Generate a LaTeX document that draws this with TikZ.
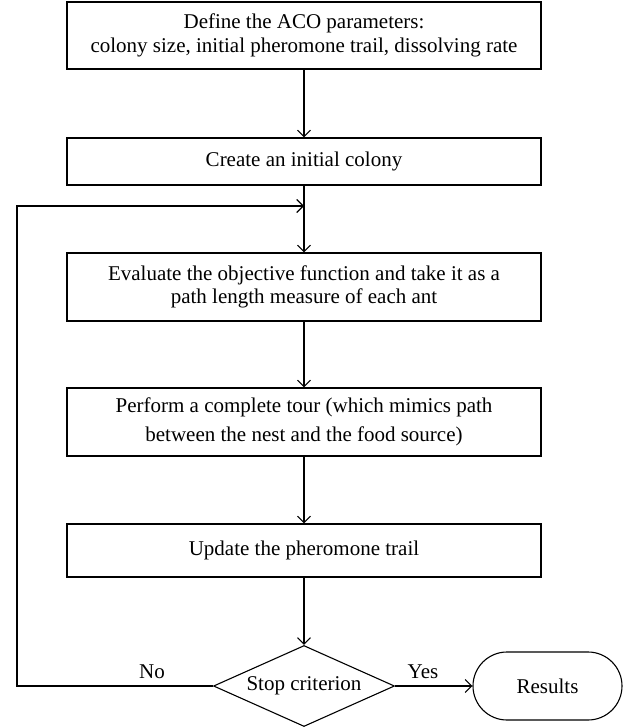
\documentclass[tikz,border=0pt]{standalone}
\usepackage{fontspec}
\setmainfont{Liberation Serif}
\usetikzlibrary{shapes.geometric,arrows.meta}
\begin{document}
\begin{tikzpicture}[x=1pt,y=-1pt,
  line width=1.1pt,
  txt/.style={font=\fontsize{21}{23.5}\selectfont},
  box/.style={draw, txt, minimum width=474pt, align=center, inner sep=0pt},
  dia/.style={draw, txt, diamond, aspect=2.2, minimum width=181pt, minimum height=81pt, inner sep=0pt},
  term/.style={draw, txt, rectangle, rounded corners=34pt, minimum width=149pt, minimum height=68pt, inner sep=0pt},
  arr/.style={-{Straight Barb[length=6.5pt,width=13pt]}},
  lab/.style={txt, inner sep=0pt}]
\useasboundingbox (0,0) rectangle (630,727);
\node[box, minimum height=67pt] (b1) at (304,35.5) {Define the ACO parameters:\\colony size, initial pheromone trail, dissolving rate};
\node[box, minimum height=47pt] (b2) at (304,161.5) {Create an initial colony};
\node[box, minimum height=68pt] (b3) at (304,287) {Evaluate the objective function and take it as a\\path length measure of each ant};
\node[box, minimum height=68pt, font=\fontsize{21}{29}\selectfont] (b4) at (304,422) {Perform a complete tour (which mimics path\\between the nest and the food source)};
\node[box, minimum height=53pt] (b5) at (304,550.5) {Update the pheromone trail};
\node[dia] (d) at (304,686) {Stop criterion};
\node[term] (r) at (547.5,686) {Results};
\coordinate (join) at (304,206);
\coordinate (corner) at (17,206);
\draw[arr] (b1) -- (b2);
\draw[arr] (b2) -- (b3);
\draw[arr] (b3) -- (b4);
\draw[arr] (b4) -- (b5);
\draw[arr] (b5) -- (d);
\draw[arr] (d.east) -- (r.west);
\draw[arr] (d.west) -| (corner) -- (join);
\node[lab] (no) at (152,672) {No};
\node[lab] (yes) at (423,672) {Yes};
\end{tikzpicture}
\end{document}
